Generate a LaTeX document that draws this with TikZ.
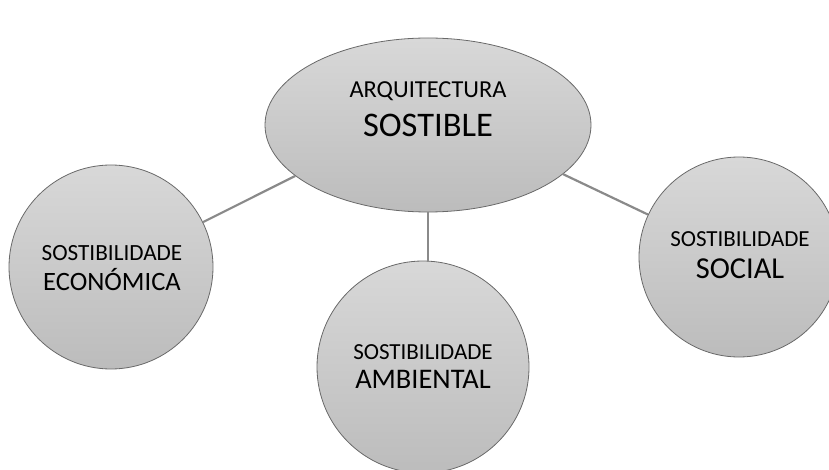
\documentclass[tikz,border=0pt]{standalone}
\usepackage{fontspec}
\setmainfont{Carlito}
\usetikzlibrary{shapes.geometric}
\definecolor{topc}{RGB}{216,216,216}
\definecolor{botc}{RGB}{188,188,188}
\definecolor{edgec}{RGB}{105,105,105}
\definecolor{linec}{RGB}{138,138,138}
\begin{document}
\begin{tikzpicture}[x=1pt,y=-1pt,
  shade/.style={draw=edgec,line width=0.8pt,top color=topc,bottom color=botc,inner sep=0pt},
  bubble/.style={shade,circle},
  link/.style={draw=linec,line width=2.2pt},
  txt/.style={anchor=base,inner sep=0pt,font=\fontsize{#1}{#1}\selectfont},
]
\useasboundingbox (0,0) rectangle (829,470);
\node[shade,ellipse,minimum width=326pt,minimum height=174pt] (ell) at (428,125) {};
\node[bubble,minimum size=204pt] (eco) at (111,267) {};
\node[bubble,minimum size=212pt] (amb) at (423,367) {};
\node[bubble,minimum size=200pt] (soc) at (739,257) {};
\draw[link] (ell.201) -- (eco.26);
\draw[link] (ell.340) -- (soc.155);
\draw[link] (ell.south) -- (amb.north -| ell.south);
\node[txt=24.4] (t1) at (428,98) {ARQUITECTURA};
\node[txt=34.5] (t2) at (428,137) {SOSTIBLE};
\node[txt=23.2] (t3) at (112,260) {SOSTIBILIDADE};
\node[txt=26.5] (t4) at (112,290) {ECONÓMICA};
\node[txt=23] (t5) at (423,359) {SOSTIBILIDADE};
\node[txt=28.4] (t6) at (423,388) {AMBIENTAL};
\node[txt=23] (t7) at (740,247) {SOSTIBILIDADE};
\node[txt=30.4] (t8) at (740,278) {SOCIAL};
\end{tikzpicture}
\end{document}
